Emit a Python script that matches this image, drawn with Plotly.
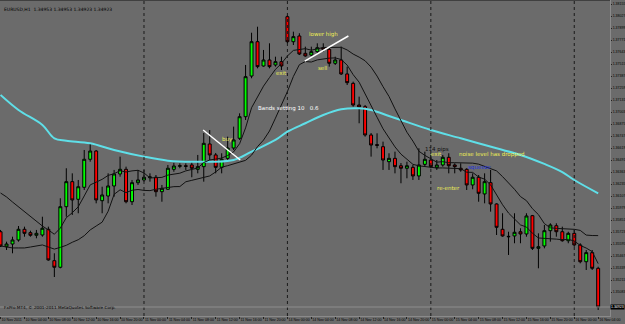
import numpy as np
import plotly.graph_objects as go

# ---------------- data (EURUSD, H1) ----------------
bars = list(range(101))

opens = [
    1.35726, 1.35566, 1.35595, 1.35638, 1.35752, 1.35716, 1.35688, 1.35691, 1.35752, 1.35417,
    1.35347, 1.35993, 1.36260, 1.36072, 1.36200, 1.36499, 1.36587, 1.36057, 1.36107, 1.36214,
    1.36342, 1.36392, 1.36046, 1.36249, 1.36278, 1.36302, 1.36307, 1.36153, 1.36179, 1.36392,
    1.36424, 1.36430, 1.36438, 1.36392, 1.36420, 1.36662, 1.36545, 1.36413, 1.36509, 1.36619,
    1.36723, 1.36953, 1.37387, 1.37753, 1.37494, 1.37558, 1.37505, 1.37540, 1.38020, 1.37753,
    1.37814, 1.37629, 1.37611, 1.37647, 1.37689, 1.37672, 1.37523, 1.37558, 1.37409, 1.37309,
    1.37078, 1.37060, 1.36758, 1.36655, 1.36633, 1.36473, 1.36509, 1.36430, 1.36403, 1.36413,
    1.36321, 1.36445, 1.36491, 1.36409, 1.36438, 1.36520, 1.36438, 1.36403, 1.36392, 1.36225,
    1.36307, 1.36129, 1.36249, 1.36022, 1.35752, 1.35677, 1.35681, 1.35726, 1.35702, 1.35897,
    1.35549, 1.35574, 1.35737, 1.35790, 1.35726, 1.35630, 1.35709, 1.35585, 1.35406, 1.35503,
    1.35336]

highs = [
    1.35745, 1.35620, 1.35673, 1.35787, 1.35780, 1.35737, 1.35745, 1.35886, 1.35780, 1.35496,
    1.36083, 1.36403, 1.36349, 1.36278, 1.36598, 1.36669, 1.36598, 1.36206, 1.36349, 1.36385,
    1.36527, 1.36420, 1.36278, 1.36385, 1.36385, 1.36349, 1.36331, 1.36225, 1.36438, 1.36462,
    1.36456, 1.36456, 1.36473, 1.36545, 1.36779, 1.36811, 1.36566, 1.36563, 1.36740, 1.36847,
    1.36989, 1.37505, 1.37849, 1.37913, 1.37665, 1.37736, 1.37593, 1.37593, 1.38038, 1.37860,
    1.37843, 1.37700, 1.37700, 1.37736, 1.37736, 1.37700, 1.37593, 1.37700, 1.37487, 1.37327,
    1.37167, 1.37078, 1.36779, 1.36776, 1.36687, 1.36563, 1.36580, 1.36459, 1.36473, 1.36438,
    1.36616, 1.36580, 1.36545, 1.36491, 1.36545, 1.36563, 1.36456, 1.36456, 1.36403, 1.36349,
    1.36331, 1.36349, 1.36385, 1.36029, 1.35923, 1.35726, 1.35923, 1.35763, 1.35923, 1.35905,
    1.35709, 1.35798, 1.35816, 1.35816, 1.35780, 1.35726, 1.35745, 1.35603, 1.35531, 1.35531,
    1.35353]

lows = [
    1.35563, 1.35531, 1.35496, 1.35620, 1.35673, 1.35673, 1.35656, 1.35673, 1.35417, 1.35243,
    1.35336, 1.35886, 1.35905, 1.35923, 1.36171, 1.36473, 1.36029, 1.35923, 1.36029, 1.36100,
    1.36313, 1.36029, 1.36011, 1.36225, 1.36260, 1.36260, 1.36100, 1.36046, 1.36171, 1.36366,
    1.36403, 1.36385, 1.36307, 1.36349, 1.36260, 1.36491, 1.36349, 1.36349, 1.36491, 1.36598,
    1.36705, 1.36918, 1.37363, 1.37469, 1.37487, 1.37469, 1.37487, 1.37451, 1.37736, 1.37718,
    1.37611, 1.37593, 1.37601, 1.37629, 1.37647, 1.37487, 1.37505, 1.37398, 1.37291, 1.37060,
    1.36883, 1.36740, 1.36527, 1.36616, 1.36385, 1.36385, 1.36349, 1.36243, 1.36296, 1.36278,
    1.36278, 1.36420, 1.36403, 1.36385, 1.36420, 1.36349, 1.36349, 1.36366, 1.36171, 1.36179,
    1.36046, 1.36029, 1.35940, 1.35691, 1.35673, 1.35478, 1.35603, 1.35603, 1.35673, 1.35531,
    1.35336, 1.35549, 1.35620, 1.35673, 1.35620, 1.35603, 1.35566, 1.35389, 1.35318, 1.35318,
    1.34891]

closes = [
    1.35574, 1.35595, 1.35638, 1.35752, 1.35709, 1.35688, 1.35709, 1.35763, 1.35425, 1.35347,
    1.35993, 1.36260, 1.36065, 1.36206, 1.36499, 1.36587, 1.36065, 1.36118, 1.36214, 1.36342,
    1.36392, 1.36046, 1.36249, 1.36278, 1.36307, 1.36310, 1.36153, 1.36189, 1.36403, 1.36427,
    1.36430, 1.36424, 1.36403, 1.36420, 1.36669, 1.36545, 1.36413, 1.36499, 1.36619, 1.36705,
    1.36953, 1.37380, 1.37753, 1.37487, 1.37558, 1.37487, 1.37540, 1.37494, 1.37753, 1.37807,
    1.37622, 1.37601, 1.37647, 1.37689, 1.37672, 1.37523, 1.37558, 1.37409, 1.37316, 1.37078,
    1.37057, 1.36758, 1.36651, 1.36648, 1.36491, 1.36509, 1.36420, 1.36403, 1.36430, 1.36321,
    1.36438, 1.36499, 1.36420, 1.36438, 1.36520, 1.36430, 1.36420, 1.36385, 1.36225, 1.36307,
    1.36136, 1.36260, 1.36022, 1.35773, 1.35681, 1.35673, 1.35720, 1.35702, 1.35894, 1.35549,
    1.35566, 1.35737, 1.35798, 1.35726, 1.35630, 1.35709, 1.35585, 1.35406, 1.35503, 1.35336,
    1.34923]

# Bollinger bands (period 10, deviation 0.6); first bars
band_period = 10
band_dev = 0.6
upper_first = [1.36139, 1.36097, 1.36043, 1.35990, 1.35937, 1.35883, 1.35830, 1.35787, 1.35745]
lower_first = [1.35574, 1.35563, 1.35553, 1.35553, 1.35553, 1.35563, 1.35574, 1.35585, 1.35563]

# long moving average (cyan)
ma_bars = [0, 3, 7, 9, 11, 15, 19, 24, 28, 32, 39, 42, 46, 48, 51, 54, 57, 60, 62, 65,
           67, 72, 77, 83, 87, 91, 94, 96, 100]
ma_vals = [1.37185, 1.37025, 1.36865, 1.36723, 1.36697, 1.36669, 1.36598, 1.36527, 1.36484,
           1.36473, 1.36491, 1.36580, 1.36705, 1.36793, 1.36883, 1.36971, 1.37032, 1.37043,
           1.37025, 1.36961, 1.36918, 1.36811, 1.36723, 1.36616, 1.36545, 1.36449, 1.36363,
           1.36278, 1.36136]

day_starts = [24, 48, 72, 96]
bid_price = 1.34923

x_tick_bars = list(range(0, 101, 4))
x_tick_text = ["10 Nov 2011", "10 Nov 04:00", "10 Nov 08:00", "10 Nov 12:00", "10 Nov 16:00",
               "10 Nov 20:00", "11 Nov 00:00", "11 Nov 04:00", "11 Nov 08:00", "11 Nov 12:00",
               "11 Nov 16:00", "11 Nov 20:00", "14 Nov 00:00", "14 Nov 04:00", "14 Nov 08:00",
               "14 Nov 12:00", "14 Nov 16:00", "14 Nov 20:00", "15 Nov 00:00", "15 Nov 04:00",
               "15 Nov 08:00", "15 Nov 12:00", "15 Nov 16:00", "15 Nov 20:00", "16 Nov 00:00",
               "16 Nov 04:00"]

price_ticks = [1.38155, 1.38027, 1.37899, 1.37771, 1.37643, 1.37515, 1.37387, 1.37259, 1.37131,
               1.37003, 1.36875, 1.36747, 1.36619, 1.36491, 1.36363, 1.36235, 1.36107, 1.35979,
               1.35851, 1.35723, 1.35595, 1.35467, 1.35339, 1.35211, 1.35083]

# chart notes: (text, bar, price, colour)
notes = [
    ("buy", 38.0, 1.36705, "#eeee55"),
    ("exit", 47.0, 1.37416, "#eeee55"),
    ("lower high", 54.1, 1.37825, "#eeee55"),
    ("sell", 54.0, 1.37469, "#eeee55"),
    ("Bands setting 10   0.6", 48.1, 1.37043, "#ffffff"),
    ("114 pips", 73.1, 1.36605, "#111111"),
    ("exit", 73.0, 1.36552, "#eeee55"),
    ("noise level has dropped", 82.2, 1.36555, "#eeee55"),
    ("squeeze", 80.1, 1.36413, "#2233dd"),
    ("re-enter", 75.0, 1.36196, "#eeee55"),
]
# hand-drawn white trend lines: (bar0, price0, bar1, price1)
trend_lines = [
    (33.9, 1.36811, 40.1, 1.36491),
    (50.9, 1.37547, 58.2, 1.37814),
]

# ---------------- bands ----------------
c = np.array(closes)
upper = list(upper_first)
lower = list(lower_first)
for i in range(band_period - 1, len(c)):
    w = c[i - band_period + 1:i + 1]
    m, s = w.mean(), w.std()
    upper.append(m + band_dev * s)
    lower.append(m - band_dev * s)

BG = "#6b6b6b"
TICKFONT = "Liberation Sans"
fig = go.Figure()

fig.add_trace(go.Scatter(x=ma_bars, y=ma_vals, mode="lines", line=dict(color="#5fdfe8", width=2, shape="spline"),
                         hoverinfo="skip"))
fig.add_trace(go.Scatter(x=bars, y=upper, mode="lines", line=dict(color="#111111", width=1), hoverinfo="skip"))
fig.add_trace(go.Scatter(x=bars, y=lower, mode="lines", line=dict(color="#111111", width=1), hoverinfo="skip"))

fig.add_trace(go.Candlestick(
    x=bars, open=opens, high=highs, low=lows, close=closes,
    increasing=dict(fillcolor="#00ff00", line=dict(color="#000000", width=1)),
    decreasing=dict(fillcolor="#ff0000", line=dict(color="#000000", width=1)),
    whiskerwidth=0, hoverinfo="skip"))

shapes = []
for d in day_starts:
    shapes.append(dict(type="line", xref="x", yref="paper", x0=d, x1=d, y0=0, y1=1,
                       line=dict(color="#1a1a1a", width=1, dash="dot")))
shapes.append(dict(type="line", xref="paper", yref="y", x0=0, x1=1, y0=bid_price, y1=bid_price,
                   line=dict(color="#8e8e8e", width=1)))
for (b0, p0, b1, p1) in trend_lines:
    shapes.append(dict(type="line", xref="x", yref="y", x0=b0, y0=p0, x1=b1, y1=p1,
                       line=dict(color="#ffffff", width=1.5)))
shapes.append(dict(type="line", xref="paper", yref="paper", x0=0, x1=1, y0=1, y1=1,
                   line=dict(color="#404040", width=2)))

annotations = []
for (t, b, p, col) in notes:
    annotations.append(dict(x=b, y=p, xref="x", yref="y", text=t, showarrow=False,
                            font=dict(family="DejaVu Sans", size=5.5, color=col)))
annotations.append(dict(x=1.0, y=bid_price, xref="paper", yref="y", text=f"{bid_price:.5f}",
                        showarrow=False, xanchor="left", bgcolor="#000000", borderpad=0,
                        font=dict(family=TICKFONT, size=3.5, color="#ffffff")))
annotations.append(dict(x=0.003, y=0.984, xref="paper", yref="paper",
                        text="EURUSD,H1  1.34953 1.34953 1.34923 1.34923", showarrow=False,
                        xanchor="left", font=dict(family="DejaVu Sans", size=4.5, color="#000000")))
annotations.append(dict(x=0.003, y=0.012, xref="paper", yref="paper",
                        text="FxPro MT4, \u00a9 2001-2011 MetaQuotes Software Corp.", showarrow=False,
                        xanchor="left", font=dict(family="DejaVu Sans", size=4.2, color="#000000")))

fig.update_layout(
    width=625, height=324,
    margin=dict(l=0, r=15, t=0, b=8, autoexpand=False),
    paper_bgcolor=BG, plot_bgcolor=BG,
    showlegend=False,
    shapes=shapes, annotations=annotations,
    boxgap=0.3,
    xaxis=dict(range=[-0.094, 101.98], showgrid=False, zeroline=False, rangeslider=dict(visible=False),
               tickmode="array", tickvals=x_tick_bars, ticktext=x_tick_text,
               ticks="outside", ticklen=2, tickcolor="#222222", ticklabelposition="outside right",
               tickangle=0, automargin=False,
               tickfont=dict(family=TICKFONT, size=3.6, color="#000000"),
               showline=True, linecolor="#8a8a8a", linewidth=1),
    yaxis=dict(range=[1.34827, 1.38198], side="right", showgrid=False, zeroline=False,
               tickmode="array", tickvals=price_ticks, ticktext=[f"{v:.5f}" for v in price_ticks],
               ticks="outside", ticklen=1, tickcolor="#222222", automargin=False,
               tickfont=dict(family=TICKFONT, size=3.5, color="#000000"),
               showline=True, linecolor="#8a8a8a", linewidth=1),
)

fig.write_html("out.html")
